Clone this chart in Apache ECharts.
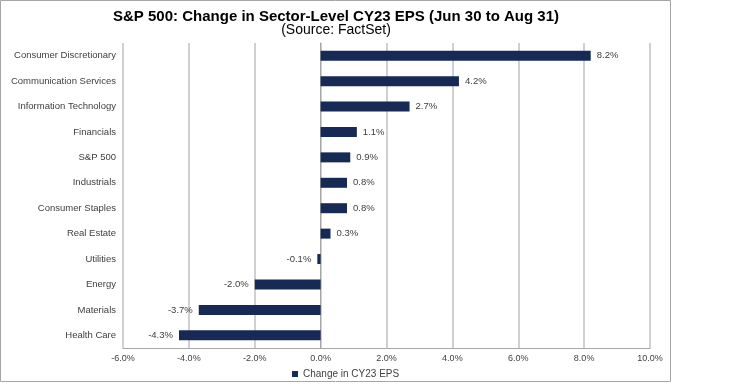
<!DOCTYPE html>
<html><head><meta charset="utf-8">
<script src="https://cdn.jsdelivr.net/npm/echarts@6/dist/echarts.min.js"></script>
<style>html,body{margin:0;padding:0;background:#fff}#c{width:730px;height:384px}</style>
</head><body><div id="c"></div>
<script>
const categories = ["Consumer Discretionary","Communication Services","Information Technology","Financials","S&P 500","Industrials","Consumer Staples","Real Estate","Utilities","Energy","Materials","Health Care"];
const values = [8.2, 4.2, 2.7, 1.1, 0.9, 0.8, 0.8, 0.3, -0.1, -2.0, -3.7, -4.3];
const seriesName = "Change in CY23 EPS";
const titleText = "S&P 500: Change in Sector-Level CY23 EPS (Jun 30 to Aug 31)";
const subtitleText = "(Source: FactSet)";

const chart = echarts.init(document.getElementById('c'), null, {renderer:'canvas'});
const font = '"Liberation Sans", Arial, sans-serif';
chart.setOption({
  animation:false,
  textStyle:{fontFamily:font},
  title:[
    {text:titleText, left:336, textAlign:'center', top:9, padding:0,
     textStyle:{fontSize:15, lineHeight:16, fontWeight:'bold', color:'#000', fontFamily:font}},
    {text:subtitleText, left:336, textAlign:'center', top:23, padding:0,
     textStyle:{fontSize:14, lineHeight:15, fontWeight:'normal', color:'#000', fontFamily:font}}
  ],
  graphic:[{type:'rect', shape:{x:0.5,y:0.5,width:670,height:381}, style:{fill:'none', stroke:'#a6a6a6', lineWidth:1}, silent:true}],
  legend:{data:[seriesName], bottom:0, left:287, itemWidth:6, itemHeight:6, icon:'rect',
    textStyle:{fontSize:10, color:'#404040', fontFamily:font}, itemGap:4},
  grid:{left:123, right:730-650, top:43, bottom:384-348},
  xAxis:{type:'value', min:-6, max:10, interval:2,
    axisLine:{show:true, lineStyle:{color:'#a6a6a6'}},
    axisTick:{show:false},
    splitLine:{show:true, lineStyle:{color:'#c0c0c0', width:1.5}},
    axisLabel:{formatter:v=>v.toFixed(1)+'%', fontSize:9, color:'#404040', margin:6, fontFamily:font}},
  yAxis:{type:'category', data:categories, inverse:true,
    axisLine:{show:true, lineStyle:{color:'#a6a6a6'}},
    axisTick:{show:false},
    axisLabel:{fontSize:9.5, color:'#404040', margin:7, fontFamily:font}},
  series:[{name:seriesName, type:'bar', barWidth:10,
    data: values.map(v=>({value:v, label:{position: v<0?'left':'right'}})),
    itemStyle:{color:'#172a55'},
    label:{show:true, formatter:p=>p.value.toFixed(1)+'%', fontSize:9.5, color:'#404040', distance:6, fontFamily:font}}]
});
</script></body></html>
